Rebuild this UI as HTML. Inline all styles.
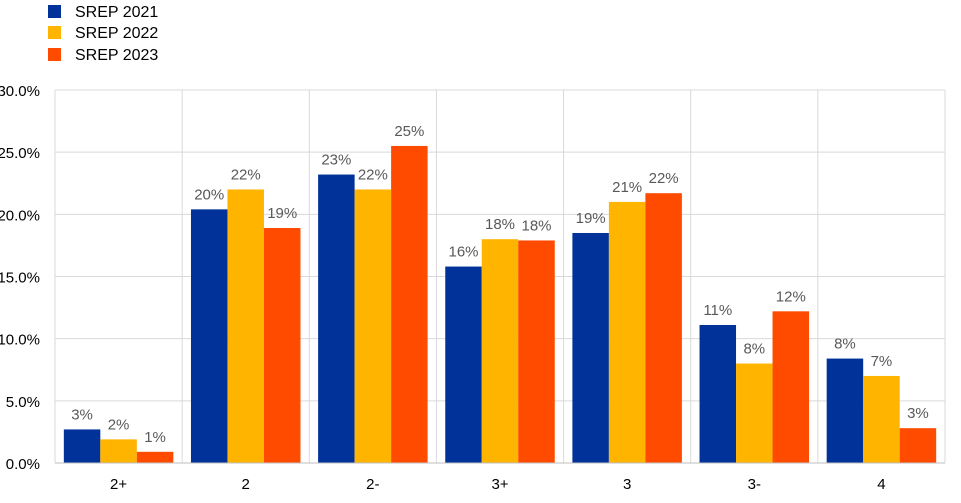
<!DOCTYPE html>
<html><head><meta charset="utf-8"><style>
html,body{margin:0;padding:0;background:#fff;}
svg{display:block;font-family:"Liberation Sans",sans-serif;}
</style></head><body>
<svg id="chart" width="961" height="503" viewBox="0 0 961 503" xmlns="http://www.w3.org/2000/svg">
<g>
<g><rect x="48" y="5" width="13" height="13" fill="#003299"/><text x="75" y="17" font-size="16" fill="#000">SREP 2021</text></g>
<g><rect x="48" y="26" width="13" height="13" fill="#FFB400"/><text x="75" y="38" font-size="16" fill="#000">SREP 2022</text></g>
<g><rect x="48" y="48" width="13" height="13" fill="#FF4B00"/><text x="75" y="60" font-size="16" fill="#000">SREP 2023</text></g>
</g>
<g id="grid"></g>
<g id="bars"></g>
<g id="axes"></g>
</svg>
<script>
const categories = ["2+","2","2-","3+","3","3-","4"];
const series2021 = [2.7,20.4,23.2,15.8,18.5,11.1,8.4];
const series2022 = [1.9,22.0,22.0,18.0,21.0,8.0,7.0];
const series2023 = [0.9,18.9,25.5,17.9,21.7,12.2,2.8];
const labels2021 = ["3%","20%","23%","16%","19%","11%","8%"];
const labels2022 = ["2%","22%","22%","18%","21%","8%","7%"];
const labels2023 = ["1%","19%","25%","18%","22%","12%","3%"];
const yTicks = [0,5,10,15,20,25,30];
const yTickLabels = ["0.0%","5.0%","10.0%","15.0%","20.0%","25.0%","30.0%"];

const NS="http://www.w3.org/2000/svg";
const L=55,R=945,T=90,B=463,yMax=30;
const y=v=>B-(v/yMax)*(B-T);
const bandW=(R-L)/categories.length;
const xBand=i=>L+i*bandW;
function mk(tag,attrs,parent){const e=document.createElementNS(NS,tag);for(const k in attrs)e.setAttribute(k,attrs[k]);parent.appendChild(e);return e;}
const grid=document.getElementById('grid'),bars=document.getElementById('bars'),axes=document.getElementById('axes');
yTicks.forEach((t,i)=>{
  const ln=mk('line',{x1:L,x2:R,y1:y(t),y2:y(t),stroke:'#d9d9d9','stroke-width':1},grid);
  
  
  const tx=mk('text',{x:40,y:y(t)+6,'text-anchor':'end','font-size':15,fill:'#000'},axes);
  tx.textContent=yTickLabels[i];
  
  
});
for(let i=0;i<=categories.length;i++){
  const ln=mk('line',{x1:xBand(i),x2:xBand(i),y1:T,y2:B,stroke:'#d9d9d9','stroke-width':1},grid);
  
  
}
const allSeries=[[series2021,labels2021,'#003299'],[series2022,labels2022,'#FFB400'],[series2023,labels2023,'#FF4B00']];
const barW=36.5;
categories.forEach((c,i)=>{
  const start=xBand(i)+bandW/2-barW*1.5;
  allSeries.forEach((s,j)=>{
    const v=s[0][i],x=start+j*barW;
    const r=mk('rect',{x:x,y:y(v),width:barW,height:B-y(v),fill:s[2]},bars);
    
    
    const t=mk('text',{x:x+barW/2,y:y(v)-10,'text-anchor':'middle','font-size':15,fill:'#595959'},bars);
    t.textContent=s[1][i];
    
    
  });
  const t=mk('text',{x:xBand(i)+bandW/2,y:489,'text-anchor':'middle','font-size':15,fill:'#000'},axes);
  t.textContent=c;
  
  
});
const ax=mk('line',{x1:L,x2:R,y1:B,y2:B,stroke:'#bfbfbf','stroke-width':1},axes);


</script>
</body></html>
